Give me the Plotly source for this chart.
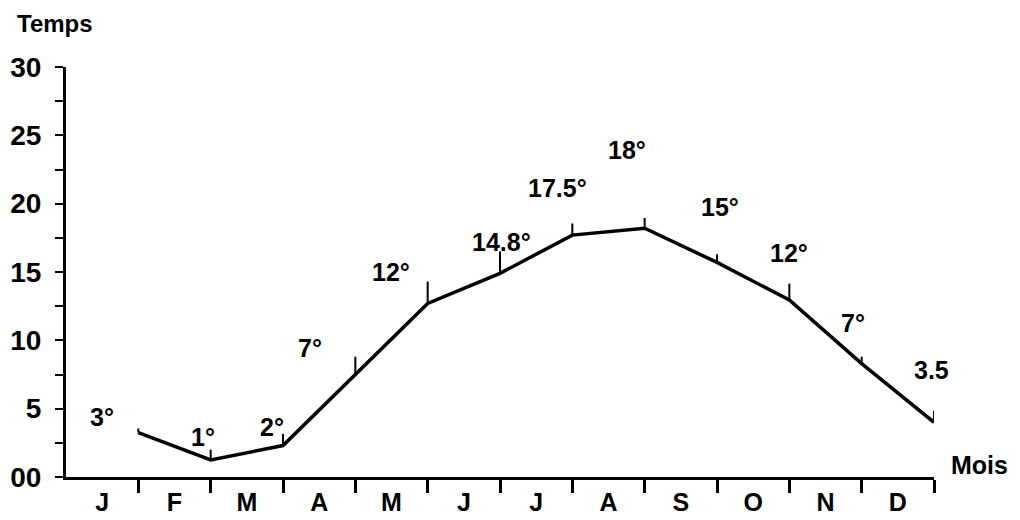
import plotly.graph_objects as go

# ---- data ----
months = ["J", "F", "M", "A", "M", "J", "J", "A", "S", "O", "N", "D"]
temps = [3.25, 1.25, 2.3, 7.5, 12.7, 14.9, 17.7, 18.2, 15.7, 12.95, 8.3, 4.0]
labels = ["3°", "1°", "2°", "7°", "12°", "14.8°", "17.5°", "18°", "15°", "12°", "7°", "3.5"]
y_ticks = [0, 5, 10, 15, 20, 25, 30]
y_tick_text = ["00", "5", "10", "15", "20", "25", "30"]

# ---- style / layout ----
FONT = "Liberation Sans, Arial, sans-serif"
label_offsets = [(-36, 16), (-8, 23), (-11, 19), (-45, 27), (-37, 31), (1, 31),
                 (-15, 47), (-18, 78), (3, 55), (0, 47), (-9, 41), (-3, 52)]
tick_heights = [0.3, 0.75, 0.85, 1.3, 1.6, 1.6, 0.85, 0.75, 0.6, 1.2, 0.5, 0.85]

xpos = list(range(1, len(months) + 1))

fig = go.Figure()
fig.add_trace(go.Scatter(
    x=xpos, y=temps, mode="lines",
    line=dict(color="black", width=3.5),
    error_y=dict(type="data", symmetric=False, array=tick_heights,
                 arrayminus=[0] * len(temps), width=0, thickness=2, color="black"),
    hoverinfo="skip", showlegend=False,
))

for i, (xv, yv, t) in enumerate(zip(xpos, temps, labels)):
    dx, dy = label_offsets[i]
    fig.add_annotation(x=xv, y=yv, text=f"<b>{t}</b>", showarrow=False,
                       xshift=dx, yshift=dy,
                       font=dict(family=FONT, size=25, color="black"))

# axis titles
fig.add_annotation(xref="paper", yref="paper", x=0, y=1.0, xshift=-51, yshift=44,
                   xanchor="left", yanchor="middle", text="<b>Temps</b>",
                   showarrow=False, font=dict(family=FONT, size=24, color="black"))
fig.add_annotation(xref="paper", yref="paper", x=1.0, y=0.0, xshift=15, yshift=12,
                   xanchor="left", yanchor="middle", text="<b>Mois</b>",
                   showarrow=False, font=dict(family=FONT, size=25, color="black"))

y_all = [v * 2.5 for v in range(13)]
y_all_text = [y_tick_text[y_ticks.index(v)] if v in y_ticks else "" for v in y_all]

fig.update_layout(
    width=1020, height=520,
    margin=dict(l=66, r=86, t=67, b=43),
    paper_bgcolor="white", plot_bgcolor="white",
    xaxis=dict(
        range=[0, 12], showgrid=False, zeroline=False, automargin=False,
        showline=True, linecolor="black", linewidth=3,
        tickmode="array", tickvals=[v - 0.5 for v in xpos],
        ticktext=[f"<b>{m}</b>" for m in months],
        ticks="", ticklabelstandoff=1,
        tickfont=dict(family=FONT, size=25, color="black"),
        minor=dict(tickmode="array", tickvals=xpos, ticks="outside",
                   ticklen=13, tickwidth=3, tickcolor="black", showgrid=False),
    ),
    yaxis=dict(
        range=[0, 30], showgrid=False, zeroline=False, automargin=False,
        showline=True, linecolor="black", linewidth=3,
        tickmode="array", tickvals=y_all,
        ticktext=[f"<b>{t}</b>" if t else "" for t in y_all_text],
        ticks="outside", ticklen=8, tickwidth=2, tickcolor="black",
        ticklabelstandoff=8,
        tickfont=dict(family=FONT, size=28, color="black"),
    ),
)

fig.write_html("out.html", config={"displayModeBar": False},
               post_script="document.body.style.margin='0';document.body.style.overflow='hidden';")
